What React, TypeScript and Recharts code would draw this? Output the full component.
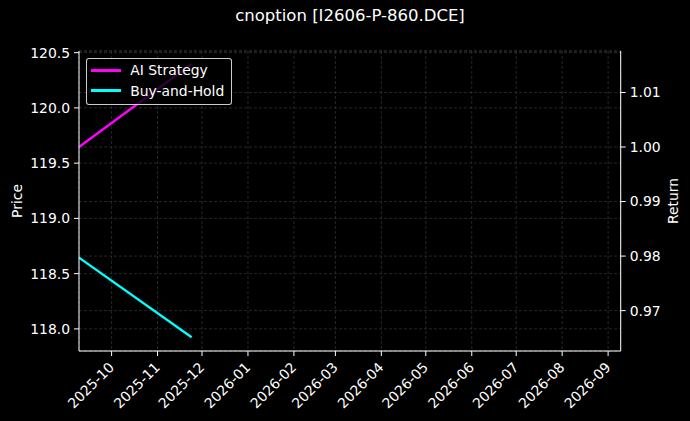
import React from 'react';
import { LineChart, Line, XAxis, YAxis, CartesianGrid, Legend } from 'recharts';

// values
const dates = ['2025-09-09', '2025-11-24'];
const aiStrategy = [1.0, 1.0152];
const buyAndHold = [118.645, 117.925];
const xRange = ['2025-09-09T00:00:00Z', '2026-09-09T12:00:00Z'];
const monthTicks = [
  '2025-10', '2025-11', '2025-12', '2026-01', '2026-02', '2026-03',
  '2026-04', '2026-05', '2026-06', '2026-07', '2026-08', '2026-09',
];
const priceTicks = [118.0, 118.5, 119.0, 119.5, 120.0, 120.5];
const returnTicks = [0.97, 0.98, 0.99, 1.0, 1.01];
const priceDomain = [117.8, 120.515];
const returnDomain = [0.9626, 1.0176];

const toTime = (d: string) => Date.parse(d.length === 7 ? d + '-01T00:00:00Z' : d.length === 10 ? d + 'T00:00:00Z' : d);

const data = dates.map((d, i) => ({ t: toTime(d), ai: aiStrategy[i], bh: buyAndHold[i] }));

const FONT = '"DejaVu Sans", sans-serif';
const TICK_FS = 13.9;
const GRID = { stroke: '#363636', strokeWidth: 0.7, strokeDasharray: '3 2' };

const fmtMonth = (v: number) => {
  const d = new Date(v);
  return `${d.getUTCFullYear()}-${String(d.getUTCMonth() + 1).padStart(2, '0')}`;
};

const DateTick = (props: any) => {
  const { x, y, payload } = props;
  return (
    <g transform={`translate(${x - 4},${y})`}>
      <text
        x={0}
        y={0}
        dy="0.74em"
        textAnchor="end"
        transform="rotate(-45)"
        fill="#fff"
        fontSize={TICK_FS}
        fontFamily={FONT}
      >
        {fmtMonth(payload.value)}
      </text>
    </g>
  );
};

const AxisTitle = (props: any) => {
  const { viewBox, value, side } = props;
  const cy = 201;
  const cx = side === 'left' ? viewBox.x - 2 : viewBox.x + viewBox.width - 8;
  return (
    <text
      x={cx}
      y={cy}
      transform={`rotate(-90, ${cx}, ${cy})`}
      textAnchor="middle"
      dominantBaseline="central"
      fill="#fff"
      fontSize={TICK_FS}
      fontFamily={FONT}
    >
      {value}
    </text>
  );
};

const LegendBox = (props: any) => {
  const items = props.payload || [];
  return (
    <div
      style={{
        background: 'rgba(0,0,0,0.8)',
        border: '1px solid rgba(255,255,255,0.8)',
        borderRadius: 3,
        width: 144,
        height: 44,
        boxSizing: 'content-box',
        paddingTop: 1,
      }}
    >
      {items.map((it: any) => (
        <div
          key={it.value}
          style={{ display: 'flex', alignItems: 'center', height: 20.6, fontFamily: FONT, fontSize: TICK_FS, color: '#fff' }}
        >
          <span style={{ display: 'inline-block', width: 30, height: 2.8, background: it.color, marginLeft: 4.5, marginRight: 9 }} />
          <span>{it.value}</span>
        </div>
      ))}
    </div>
  );
};

export default function App() {
  const xDomain = xRange.map(toTime);
  const xTicks = monthTicks.map(toTime);
  return (
    <div style={{ position: 'absolute', left: 0, top: 0, width: 690, height: 421, background: '#000', overflow: 'hidden' }}>
      <div
        style={{
          position: 'absolute',
          left: 79,
          width: 542,
          top: 6,
          textAlign: 'center',
          color: '#fff',
          fontFamily: FONT,
          fontSize: 16.5,
        }}
      >
        cnoption [I2606-P-860.DCE]
      </div>
      <LineChart width={690} height={421} data={data} margin={{ top: 51, right: 9.3, left: 19, bottom: 0 }}>
        <CartesianGrid xAxisId={0} yAxisId="price" {...GRID} />
        <CartesianGrid xAxisId={0} yAxisId="ret" vertical={false} {...GRID} />
        <XAxis
          xAxisId={0}
          dataKey="t"
          type="number"
          domain={xDomain}
          ticks={xTicks}
          allowDataOverflow
          height={70}
          interval={0}
          stroke="#fff"
          tickSize={5}
          tickMargin={5}
          tick={<DateTick />}
        />
        <XAxis
          xAxisId="top"
          orientation="top"
          dataKey="t"
          type="number"
          domain={xDomain}
          allowDataOverflow
          height={0}
          stroke="#fff"
          tick={false}
          tickLine={false}
        />
        <YAxis
          yAxisId="price"
          orientation="left"
          width={60}
          domain={priceDomain}
          ticks={priceTicks}
          allowDataOverflow
          interval={0}
          stroke="#fff"
          tickSize={5}
          tickMargin={4}
          tickFormatter={(v: number) => v.toFixed(1)}
          tick={{ fill: '#fff', fontSize: TICK_FS, fontFamily: FONT }}
          label={<AxisTitle value="Price" side="left" />}
        />
        <YAxis
          yAxisId="ret"
          orientation="right"
          width={60}
          domain={returnDomain}
          ticks={returnTicks}
          allowDataOverflow
          interval={0}
          stroke="#fff"
          tickSize={5}
          tickMargin={4}
          tickFormatter={(v: number) => v.toFixed(2)}
          tick={{ fill: '#fff', fontSize: TICK_FS, fontFamily: FONT }}
          label={<AxisTitle value="Return" side="right" />}
        />
        <Line
          xAxisId={0}
          yAxisId="ret"
          dataKey="ai"
          name="AI Strategy"
          type="linear"
          stroke="#ff00ff"
          strokeWidth={2.4}
          dot={false}
          isAnimationActive={false}
        />
        <Line
          xAxisId={0}
          yAxisId="price"
          dataKey="bh"
          name="Buy-and-Hold"
          type="linear"
          stroke="#00ffff"
          strokeWidth={2.4}
          dot={false}
          isAnimationActive={false}
        />
        <Legend
          layout="horizontal"
          verticalAlign="middle"
          align="center"
          content={<LegendBox />}
          wrapperStyle={{ position: 'absolute', left: 85.7, top: 58, width: 'auto' }}
        />
      </LineChart>
    </div>
  );
}
